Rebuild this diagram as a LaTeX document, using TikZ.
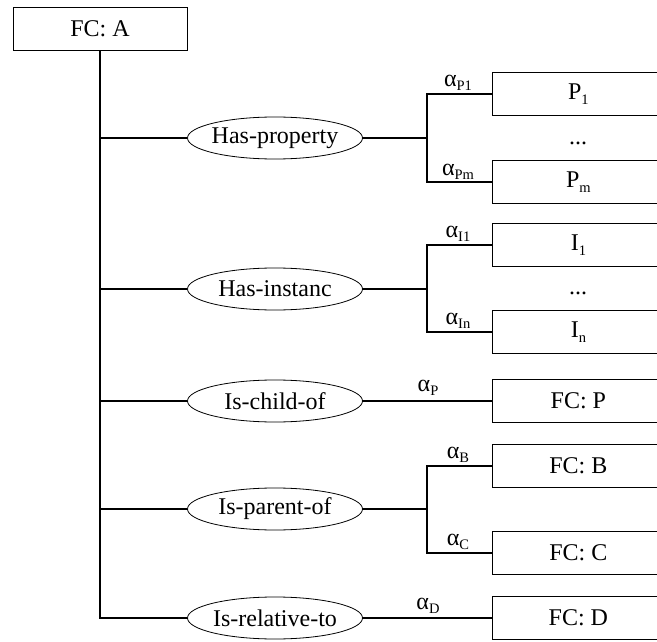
\documentclass[tikz,border=0pt]{standalone}
\usepackage{fontspec}
\setmainfont{Liberation Serif}
\usetikzlibrary{shapes.geometric}
\newcommand\lsub[1]{\raisebox{-0.4ex}{\fontsize{14.5}{15}\selectfont #1}}
\begin{document}
\begin{tikzpicture}[x=1pt,y=-1pt,
  every node/.style={font=\fontsize{24}{26}\selectfont},
  fcbox/.style={draw, line width=0.8pt, rectangle, anchor=west,
    minimum width=172pt, minimum height=43pt, inner sep=0pt},
  relnode/.style={draw, line width=0.8pt, ellipse, minimum width=175pt,
    minimum height=42pt, inner xsep=-6pt, inner ysep=0pt},
  wlabel/.style={inner sep=0pt},
  trunk/.style={line width=1.6pt},
  link/.style={line width=1.4pt}]
\useasboundingbox (0,0) rectangle (657,642);
\clip (0,0) rectangle (657,642);

% root concept
\node[draw, line width=0.8pt, minimum width=174pt, minimum height=43pt, inner sep=0pt] (A) at (100,28.5) {FC: A};

% relation ellipses
\node[relnode] (hp)  at (275,138) {Has-property};
\node[relnode] (hi)  at (275,289) {Has-instanc};
\node[relnode] (ch)  at (275,401) {Is-child-of};
\node[relnode] (pa)  at (275,509) {Is-parent-of};
\node[relnode] (rel) at (275,618) {Is-relative-to};

% target boxes
\node[fcbox] (p1) at (492,94)  {P\lsub{1}};
\node[fcbox] (pm) at (492,182) {P\lsub{m}};
\node[fcbox] (i1) at (492,245) {I\lsub{1}};
\node[fcbox] (in) at (492,332) {I\lsub{n}};
\node[fcbox] (fp) at (492,401) {FC: P};
\node[fcbox] (fb) at (492,466) {FC: B};
\node[fcbox] (fc) at (492,553) {FC: C};
\node[fcbox] (fd) at (492,618) {FC: D};

\node (d1) at (578,143) {...};
\node (d2) at (578,293) {...};

% junction points
\coordinate (jp) at (427,138);
\coordinate (ji) at (427,289);
\coordinate (jb) at (427,509);

% trunk
\draw[trunk] (A.south) |- (rel.west);
\draw[trunk] (A.south) |- (hp.west);
\draw[trunk] (A.south) |- (hi.west);
\draw[trunk] (A.south) |- (ch.west);
\draw[trunk] (A.south) |- (pa.west);

% links to targets
\draw[link] (hp.east) -- (jp);
\draw[link] (p1.west) -| (jp) |- (pm.west);
\draw[link] (hi.east) -- (ji);
\draw[link] (i1.west) -| (ji) |- (in.west);
\draw[link] (ch.east) -- (fp.west);
\draw[link] (pa.east) -- (jb);
\draw[link] (fb.west) -| (jb) |- (fc.west);
\draw[link] (rel.east) -- (fd.west);

% weight labels
\node[wlabel] (lp1) at (458,83)  {α\lsub{P1}};
\node[wlabel] (lpm) at (458,172) {α\lsub{Pm}};
\node[wlabel] (li1) at (458,234) {α\lsub{I1}};
\node[wlabel] (lin) at (458,321) {α\lsub{In}};
\node[wlabel] (lp)  at (428,388) {α\lsub{P}};
\node[wlabel] (lb)  at (458,455) {α\lsub{B}};
\node[wlabel] (lc)  at (458,542) {α\lsub{C}};
\node[wlabel] (ld)  at (428,606) {α\lsub{D}};
\end{tikzpicture}
\end{document}
